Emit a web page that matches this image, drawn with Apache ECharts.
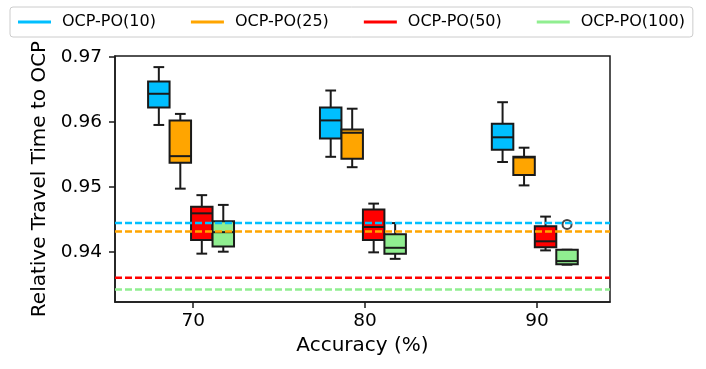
<!DOCTYPE html>
<html>
<head>
<meta charset="utf-8">
<script src="https://cdn.jsdelivr.net/npm/echarts@6/dist/echarts.min.js"></script>
<style>
  html, body { margin: 0; padding: 0; background: #fff; }
  #chart { width: 706px; height: 369px; }
</style>
</head>
<body>
<div id="chart"></div>
<script>
// accuracy groups (x ticks)
const accuracy = [70, 80, 90];
const seriesNames = ['OCP-PO(10)', 'OCP-PO(25)', 'OCP-PO(50)', 'OCP-PO(100)'];
const colors = ['#00BFFF', '#FFA500', '#FF0000', '#90EE90'];
// box offsets around each accuracy tick, box width (x units)
const offsets = [-2, -0.75, 0.5, 1.75];
const boxWidth = 1.25;

// [low whisker, q1, median, q3, high whisker] per accuracy
const po10 = [
  [0.9595, 0.9622, 0.9643, 0.9662, 0.9684],
  [0.9546, 0.9574, 0.9602, 0.9622, 0.9648],
  [0.9538, 0.9557, 0.9576, 0.9597, 0.9630]
];
const po25 = [
  [0.9497, 0.9537, 0.9547, 0.9602, 0.9612],
  [0.9530, 0.9543, 0.9583, 0.9588, 0.9620],
  [0.9502, 0.9518, 0.9545, 0.9546, 0.9560]
];
const po50 = [
  [0.9397, 0.9418, 0.9459, 0.9469, 0.9487],
  [0.9399, 0.9418, 0.9438, 0.9465, 0.9474],
  [0.9402, 0.9407, 0.9416, 0.9439, 0.9454]
];
const po100 = [
  [0.9400, 0.9408, 0.9430, 0.9447, 0.9472],
  [0.9389, 0.9397, 0.9406, 0.9427, 0.9444],
  [0.9380, 0.93805, 0.93855, 0.9403, 0.9403]
];
// dashed reference lines (one per series)
const baselines = [0.9444, 0.9431, 0.9360, 0.9342];
// outliers: [series index, accuracy index, value]
const outliers = [[3, 2, 0.9442]];
const yTicks = [0.94, 0.95, 0.96, 0.97];

const xMin = 65.45, xMax = 94.25;
const boxData = [po10, po25, po50, po100];
const font = 'DejaVu Sans';

function renderBox(params, api) {
  const x = api.value(0);
  const low = api.coord([x, api.value(1)]);
  const q1 = api.coord([x, api.value(2)]);
  const med = api.coord([x, api.value(3)]);
  const q3 = api.coord([x, api.value(4)]);
  const high = api.coord([x, api.value(5)]);
  const w = api.size([boxWidth, 0])[0];
  const cx = low[0];
  const cap = w / 4;
  const ln = { stroke: '#1a1a1a', lineWidth: 2 };
  return {
    type: 'group',
    children: [
      { type: 'line', shape: { x1: cx, y1: q3[1], x2: cx, y2: high[1] }, style: ln },
      { type: 'line', shape: { x1: cx, y1: q1[1], x2: cx, y2: low[1] }, style: ln },
      { type: 'line', shape: { x1: cx - cap, y1: high[1], x2: cx + cap, y2: high[1] }, style: ln },
      { type: 'line', shape: { x1: cx - cap, y1: low[1], x2: cx + cap, y2: low[1] }, style: ln },
      { type: 'rect', shape: { x: cx - w / 2, y: q3[1], width: w, height: q1[1] - q3[1] },
        style: { fill: api.visual('color'), stroke: '#1a1a1a', lineWidth: 2 } },
      { type: 'line', shape: { x1: cx - w / 2, y1: med[1], x2: cx + w / 2, y2: med[1] }, style: ln }
    ]
  };
}

const series = [];
seriesNames.forEach((name, i) => {
  series.push({
    name: name,
    type: 'custom',
    color: colors[i],
    renderItem: renderBox,
    encode: { x: 0, y: [1, 2, 3, 4, 5] },
    data: boxData[i].map((b, j) => [accuracy[j] + offsets[i]].concat(b)),
    z: 3
  });
});
// dashed baselines, drawn over the boxes
baselines.forEach((v, i) => {
  series.push({
    type: 'line',
    silent: true,
    symbol: 'none',
    lineStyle: { color: colors[i], type: [7, 3], width: 2.5 },
    data: [[xMin, v], [xMax, v]],
    z: 5
  });
});
series.push({
  type: 'scatter',
  symbol: 'circle',
  symbolSize: 9,
  itemStyle: { color: 'rgba(255,255,255,0)', borderColor: '#1a1a1a', borderWidth: 2 },
  data: outliers.map(o => [accuracy[o[1]] + offsets[o[0]], o[2]]),
  z: 4
});

const chart = echarts.init(document.getElementById('chart'));
chart.setOption({
  animation: false,
  textStyle: { fontFamily: font },
  legend: {
    data: seriesNames.map((n, i) => ({ name: n, itemStyle: { color: colors[i] } })),
    left: 10,
    top: 7,
    padding: [7, 8, 7, 8],
    itemGap: 35,
    itemWidth: 33,
    itemHeight: 3,
    icon: 'rect',
    borderColor: '#ccc',
    borderWidth: 1,
    borderRadius: 3,
    textStyle: { fontFamily: font, fontSize: 16, color: '#000', padding: [0, 0, 0, 6] }
  },
  grid: {
    left: 115, right: 96, top: 56, bottom: 67,
    show: true, borderColor: '#1a1a1a', borderWidth: 1.5,
    containLabel: false
  },
  xAxis: {
    type: 'value',
    min: xMin,
    max: xMax,
    name: 'Accuracy (%)',
    nameLocation: 'middle',
    nameGap: 34,
    nameTextStyle: { fontFamily: font, fontSize: 20, color: '#000' },
    axisLine: { show: true, lineStyle: { color: '#1a1a1a', width: 1.5 } },
    axisTick: { show: true, length: 6, lineStyle: { color: '#1a1a1a', width: 1.5 }, customValues: accuracy },
    axisLabel: { fontFamily: font, fontSize: 18.5, color: '#000', margin: 10, customValues: accuracy },
    splitLine: { show: false }
  },
  yAxis: {
    type: 'value',
    min: 0.93226,
    max: 0.97011,
    name: 'Relative Travel Time to OCP',
    nameLocation: 'middle',
    nameGap: 55,
    nameTextStyle: { fontFamily: font, fontSize: 20, color: '#000' },
    axisLine: { show: true, lineStyle: { color: '#1a1a1a', width: 1.5 } },
    axisTick: { show: true, length: 6, lineStyle: { color: '#1a1a1a', width: 1.5 }, customValues: yTicks },
    axisLabel: { fontFamily: font, fontSize: 18.5, color: '#000', margin: 13, customValues: yTicks,
      formatter: v => v.toFixed(2) },
    splitLine: { show: false }
  },
  series: series
});
</script>
</body>
</html>
